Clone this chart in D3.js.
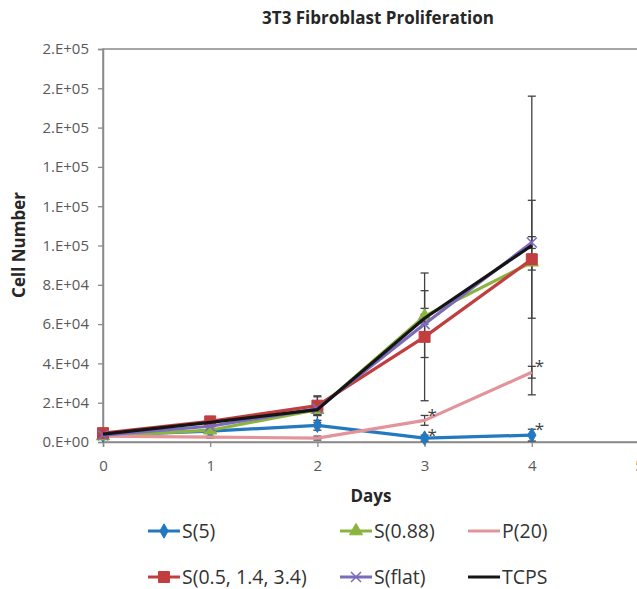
<!DOCTYPE html>
<html>
<head>
<meta charset="utf-8">
<script src="https://cdn.jsdelivr.net/npm/d3@7"></script>
<style>
  body { margin: 0; background: #fff; }
  svg { display: block; font-family: "Open Sans", sans-serif; }
</style>
</head>
<body>
<svg id="chart"></svg>
<script>
// Chart data
const days = [0, 1, 2, 3, 4];
const xTicks = [0, 1, 2, 3, 4, 5];
const yTicks = [0, 20000, 40000, 60000, 80000, 100000, 120000, 140000, 160000, 180000, 200000];
const yTickLabels = ["0.E+00", "2.E+04", "4.E+04", "6.E+04", "8.E+04", "1.E+05", "1.E+05", "1.E+05", "2.E+05", "2.E+05", "2.E+05"];

const s5 = [3500, 5500, 8500, 2000, 3500];
const s5Err = [1000, 1000, 2500, 1500, 3000];
const s088 = [3000, 6000, 16500, 64000, 91500];
const s088Err = [500, 1000, 3000, 4000, 4000];
const p20 = [3000, 2500, 2000, 11000, 35500];
const p20Err = [500, 500, 1000, 2500, 3000];
const sMulti = [4500, 10500, 18500, 53500, 93000];
const sMultiErr = [1000, 1500, 5000, 32500, 30000];
const sFlat = [3500, 8000, 17000, 60000, 101500];
const sFlatErr = [500, 1000, 3000, 17000, 3000];
const tcps = [4000, 10000, 16500, 63000, 100000];
const tcpsErr = [500, 1000, 6500, 2000, 76000];

// significance stars: [series name, day]
const stars = [["P(20)", 3], ["S(5)", 3], ["P(20)", 4], ["S(5)", 4]];

const series = [
  { name: "S(5)", values: s5, err: s5Err, color: "#2379c0", marker: "diamond" },
  { name: "S(0.88)", values: s088, err: s088Err, color: "#8bb43f", marker: "triangle" },
  { name: "P(20)", values: p20, err: p20Err, color: "#e3949b", marker: null },
  { name: "S(0.5, 1.4, 3.4)", values: sMulti, err: sMultiErr, color: "#c23d3e", marker: "square" },
  { name: "S(flat)", values: sFlat, err: sFlatErr, color: "#7b6bbd", marker: "x" },
  { name: "TCPS", values: tcps, err: tcpsErr, color: "#151515", marker: null }
];

const width = 637;
const height = 589;
const plot = { left: 103, top: 49, right: 639, bottom: 442 };

const svg = d3.select("#chart")
    .attr("width", width)
    .attr("height", height);

const xScale = d3.scaleLinear().domain([0, 5]).range([plot.left, plot.right]);
const yScale = d3.scaleLinear().domain([0, 200000]).range([plot.bottom, plot.top]);

// plot area border
svg.append("rect")
    .attr("x", plot.left)
    .attr("y", plot.top)
    .attr("width", plot.right - plot.left)
    .attr("height", plot.bottom - plot.top)
    .attr("fill", "none")
    .attr("stroke", "#8a8a8a")
    .attr("stroke-width", 1.5);

// Axes
const yAxis = svg.append("g")
    .attr("transform", `translate(${plot.left},0)`)
    .call(d3.axisLeft(yScale).tickValues(yTicks).tickSize(5).tickPadding(9)
        .tickFormat((d, i) => yTickLabels[i]));

const xAxis = svg.append("g")
    .attr("transform", `translate(0,${plot.bottom})`)
    .call(d3.axisBottom(xScale).tickValues(xTicks).tickSize(5).tickPadding(13)
        .tickFormat(d3.format("d")));

[yAxis, xAxis].forEach(g => {
  g.select(".domain").attr("stroke", "#8a8a8a").attr("stroke-width", 1.5);
  g.selectAll(".tick line").attr("stroke", "#8a8a8a").attr("stroke-width", 1.3);
  g.selectAll(".tick text")
      .attr("fill", "#595959")
      .style("font-size", "15px")
      .style("font-family", "'Open Sans', sans-serif");
});

// Titles
svg.append("text")
    .attr("x", 378)
    .attr("y", 24)
    .attr("text-anchor", "middle")
    .attr("fill", "#262626")
    .style("font-size", "17px")
    .style("font-weight", "bold")
    .text("3T3 Fibroblast Proliferation");

svg.append("text")
    .attr("x", 371)
    .attr("y", 502)
    .attr("text-anchor", "middle")
    .attr("fill", "#262626")
    .style("font-size", "17px")
    .style("font-weight", "bold")
    .text("Days");

svg.append("text")
    .attr("transform", "translate(25,245) rotate(-90)")
    .attr("text-anchor", "middle")
    .attr("fill", "#262626")
    .style("font-size", "17px")
    .style("font-weight", "bold")
    .text("Cell Number");

// Error bars
const errG = svg.append("g");
series.forEach(s => {
  days.forEach((d, i) => {
    const e = s.err[i];
    if (!e) return;
    const cx = xScale(d);
    const y1 = yScale(s.values[i] + e);
    const y0 = yScale(Math.max(0, s.values[i] - e));
    errG.append("line").attr("x1", cx).attr("x2", cx).attr("y1", y1).attr("y2", y0)
        .attr("stroke", "#404040").attr("stroke-width", 1.3);
    [y1, y0].forEach(yy => {
      errG.append("line").attr("x1", cx - 4).attr("x2", cx + 4).attr("y1", yy).attr("y2", yy)
          .attr("stroke", "#404040").attr("stroke-width", 1.3);
    });
  });
});

// Lines and markers
const line = d3.line()
    .x((d, i) => xScale(days[i]))
    .y(d => yScale(d));

function markerPath(type) {
  if (type === "diamond") return d3.symbol(d3.symbolDiamond, 60)();
  if (type === "triangle") return d3.symbol(d3.symbolTriangle, 75)();
  if (type === "square") return d3.symbol(d3.symbolSquare, 120)();
  if (type === "x") return "M-5,-5L5,5M-5,5L5,-5";
  return null;
}

series.forEach(s => {
  svg.append("path")
      .datum(s.values)
      .attr("fill", "none")
      .attr("stroke", s.color)
      .attr("stroke-width", 3.2)
      .attr("stroke-linejoin", "round")
      .attr("d", line);

  if (s.marker) {
    svg.append("g").selectAll("path")
        .data(s.values)
        .enter()
        .append("path")
        .attr("transform", (d, i) => `translate(${xScale(days[i])},${yScale(d)})`)
        .attr("d", markerPath(s.marker))
        .attr("fill", s.marker === "x" ? "none" : s.color)
        .attr("stroke", s.color)
        .attr("stroke-width", s.marker === "x" ? 1.5 : 1);
  }
});

// Significance stars
stars.forEach(([name, day]) => {
  const s = series.find(d => d.name === name);
  const top = s.values[day] + s.err[day];
  svg.append("text")
      .attr("x", xScale(day) + 3)
      .attr("y", yScale(top) + 6)
      .attr("fill", "#404040")
      .style("font-size", "17px")
      .text("*");
});

// Legend
const legendPos = [
  [148, 531], [340, 531], [468, 531],
  [148, 577], [340, 577], [468, 577]
];
const legendOrder = ["S(5)", "S(0.88)", "P(20)", "S(0.5, 1.4, 3.4)", "S(flat)", "TCPS"];
legendOrder.forEach((name, i) => {
  const s = series.find(d => d.name === name);
  const [lx, ly] = legendPos[i];
  const g = svg.append("g").attr("transform", `translate(${lx},${ly})`);
  g.append("line")
      .attr("x1", 0).attr("x2", 32).attr("y1", 0).attr("y2", 0)
      .attr("stroke", s.color).attr("stroke-width", 3);
  if (s.marker) {
    g.append("path")
        .attr("transform", "translate(16,0)")
        .attr("d", markerPath(s.marker))
        .attr("fill", s.marker === "x" ? "none" : s.color)
        .attr("stroke", s.color)
        .attr("stroke-width", s.marker === "x" ? 1.5 : 1);
  }
  g.append("text")
      .attr("x", 34)
      .attr("y", 0)
      .attr("dy", "0.35em")
      .attr("fill", "#333")
      .style("font-size", "19.5px")
      .text(name);
});
</script>
</body>
</html>
